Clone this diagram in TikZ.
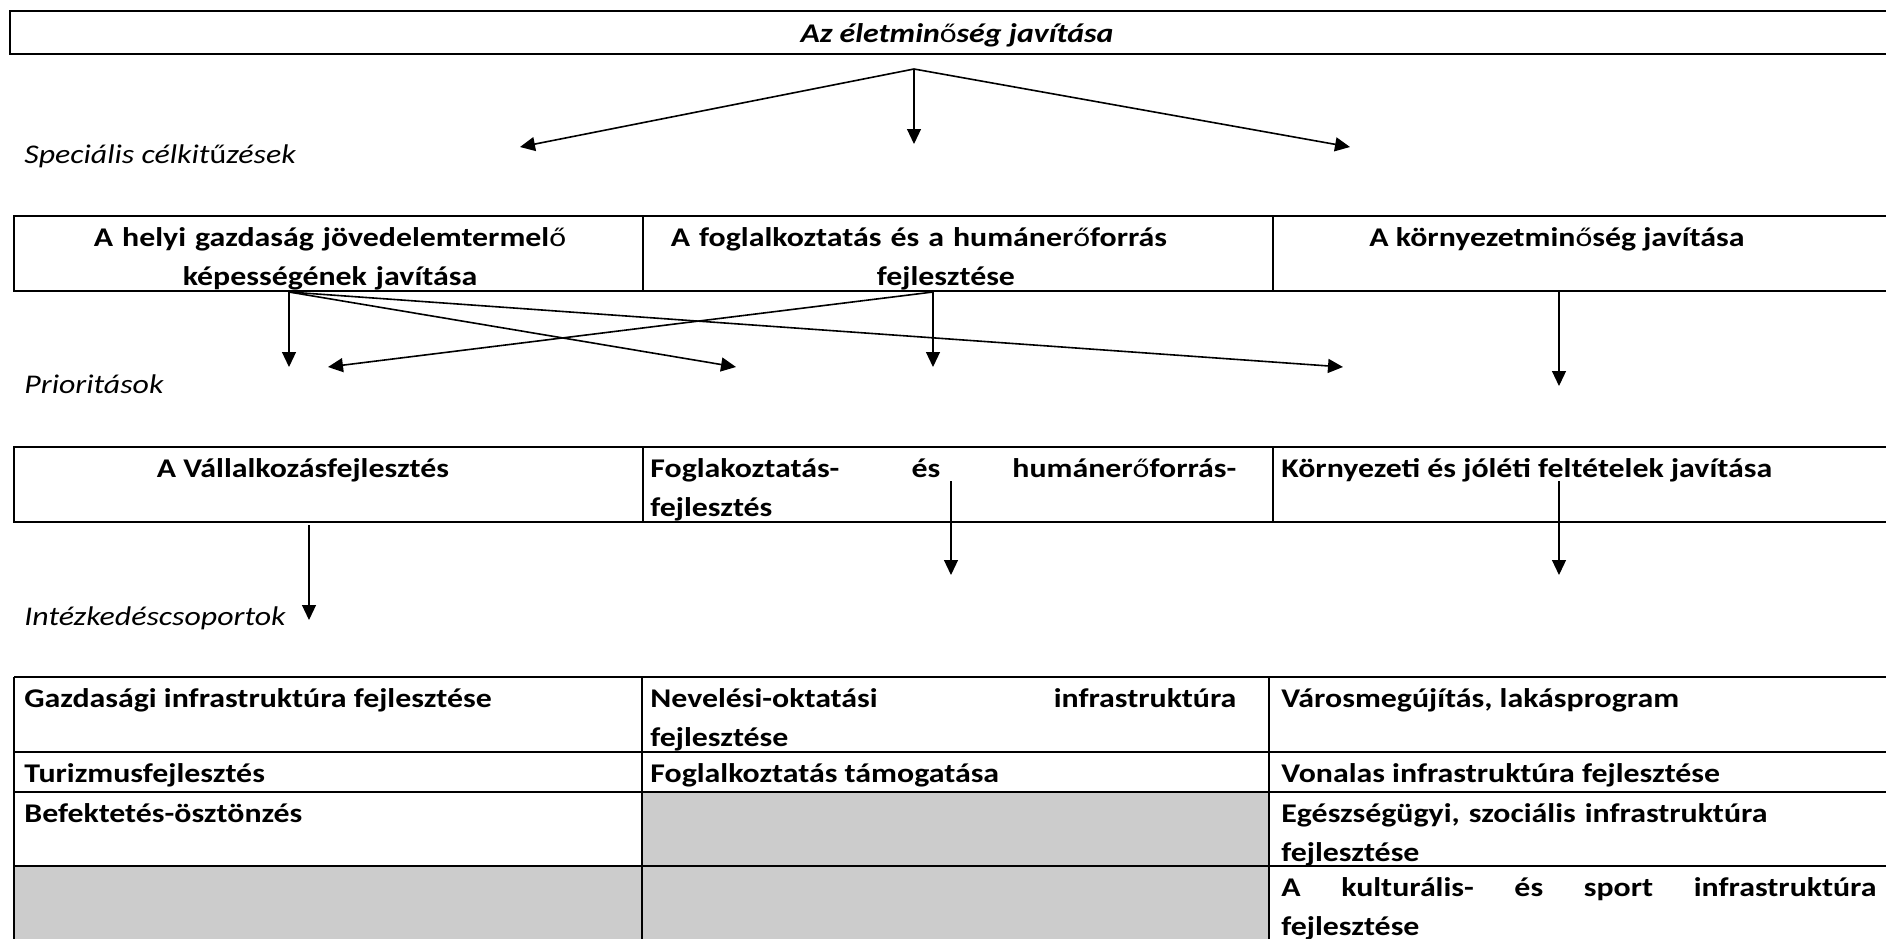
\documentclass[tikz,border=0pt]{standalone}
\usepackage{fontspec}
\setmainfont{Carlito}[FakeStretch=1.18]
\usetikzlibrary{arrows.meta}

\definecolor{cellagray}{RGB}{204,204,204}
\newcommand{\betu}{\fontsize{13.5}{19.5}\selectfont}
\newcommand{\oo}{{\mdseries\upshape ő}}
\newcommand{\uu}{{\mdseries\upshape ű}}

\tikzset{
  cim/.style={font=\betu\bfseries\itshape, inner sep=0pt, anchor=base},
  szint/.style={font=\betu\itshape, inner sep=0pt, anchor=base west},
  cella/.style={font=\betu\bfseries, inner sep=0pt, anchor=base west, align=left},
  kozep/.style={font=\betu\bfseries, inner sep=0pt, anchor=base, align=center},
  keret/.style={line width=0.6pt},
  tabla/.style={line width=1pt},
  nyil/.style={-{Triangle[length=7.5pt,width=7pt]}, line width=0.8pt},
  lenyil/.style={-{Triangle[length=7.5pt,width=7pt]}, line width=0.6pt},
}

\begin{document}
\begin{tikzpicture}[x=0.5pt,y=0.5pt,yscale=-1]
\useasboundingbox (0,0) rectangle (1886,938);
\clip (0,0) rectangle (1886,938);

%Shape: Rectangle (cim)
\draw [keret] (10,11) rectangle (1900,54);
% Text Node
\node [cim] (cel) at (957,42) {Az életmin\oo ség javítása};

% Text Node
\node [szint] (specialis) at (24,163) {Speciális célkit\uu zések};

%Shape: Rectangle (celkituzesek)
\draw [keret] (14,216) rectangle (1900,291);
\draw [keret] (643,216) -- (643,291);
\draw [keret] (1273,216) -- (1273,291);
% Text Node
\node [kozep, text width=300pt] (gazdasag) at (330,246) {A helyi gazdaság jövedelemtermel\oo\\képességének javítása};
% Text Node
\node [kozep, text width=300pt] (foglalk) at (919,246) {A foglalkoztatás és a humáner\oo forrás\\\hspace*{27pt}fejlesztése};
% Text Node
\node [kozep] (kornyezet) at (1557,246) {A környezetmin\oo ség javítása};

% Text Node
\node [szint] (prioritas) at (24,393) {Prioritások};

%Shape: Rectangle (prioritasok)
\draw [keret] (14,447) rectangle (1900,522);
\draw [keret] (643,447) -- (643,522);
\draw [keret] (1273,447) -- (1273,522);
% Text Node
\node [kozep] (vallalk) at (303,477) {A Vállalkozásfejlesztés};
% Text Node
\node [cella, text width=293pt] (humaner) at (650,477) {Foglakoztatás-\hfill és\hfill humáner\oo forrás-\\fejlesztés};
% Text Node
\node [cella] (joleti) at (1281,477) {Környezeti és jóléti feltételek javítása};

% Text Node
\node [szint] (intezk) at (24,625) {Intézkedéscsoportok};

%Shape: Table (intezkedescsoportok)
\fill [cellagray] (642,792) rectangle (1269,866);
\fill [cellagray] (14,866) rectangle (1269,940);
\draw [tabla] (14,677) -- (1900,677);
\draw [tabla] (14,752) -- (1900,752);
\draw [tabla] (14,792) -- (1900,792);
\draw [tabla] (14,866) -- (1900,866);
\draw [tabla] (14,677) -- (14,940);
\draw [tabla] (642,677) -- (642,940);
\draw [tabla] (1269,677) -- (1269,940);

% Text Node
\node [cella] (gazdinfra) at (24,707) {Gazdasági infrastruktúra fejlesztése};
% Text Node
\node [cella, text width=293pt] (nevokt) at (650,707) {Nevelési-oktatási\hfill infrastruktúra\\fejlesztése};
% Text Node
\node [cella] (varosm) at (1281,707) {Városmegújítás, lakásprogram};
% Text Node
\node [cella] (turizmus) at (24,782) {Turizmusfejlesztés};
% Text Node
\node [cella] (foglt) at (650,782) {Foglalkoztatás támogatása};
% Text Node
\node [cella] (vonalas) at (1281,782) {Vonalas infrastruktúra fejlesztése};
% Text Node
\node [cella] (befekt) at (24,822) {Befektetés-ösztönzés};
% Text Node
\node [cella, text width=297.5pt] (egeszseg) at (1281,822) {Egészségügyi, szociális infrastruktúra\\fejlesztése};
% Text Node
\node [cella, text width=297.5pt] (kultura) at (1281,896) {A\hfill kulturális-\hfill és\hfill sport\hfill infrastruktúra\\fejlesztése};

% arrow ends
\coordinate (fo) at (914,69);
\coordinate (spec1) at (520,147);
\coordinate (spec2) at (914,144);
\coordinate (spec3) at (1350,147);
\coordinate (gazdki) at (289,292);
\coordinate (foglki) at (933,292);
\coordinate (kornyki) at (1559,292);
\coordinate (prio1a) at (289,367);
\coordinate (prio1b) at (328,367);
\coordinate (prio2a) at (736,367);
\coordinate (prio2b) at (933,367);
\coordinate (prio3a) at (1343,367);
\coordinate (prio3b) at (1559,386);
\coordinate (vallki) at (309,525);
\coordinate (humki) at (951,481);
\coordinate (jolki) at (1559,481);
\coordinate (int1) at (309,620);
\coordinate (int2) at (951,575);
\coordinate (int3) at (1559,575);

% Arrows
\draw [nyil] (fo) -- (spec1);
\draw [lenyil] (fo) -- (spec2);
\draw [nyil] (fo) -- (spec3);
\draw [lenyil] (gazdki) -- (prio1a);
\draw [nyil] (gazdki) -- (prio2a);
\draw [nyil] (gazdki) -- (prio3a);
\draw [nyil] (foglki) -- (prio1b);
\draw [lenyil] (foglki) -- (prio2b);
\draw [lenyil] (kornyki) -- (prio3b);
\draw [lenyil] (vallki) -- (int1);
\draw [lenyil] (humki) -- (int2);
\draw [lenyil] (jolki) -- (int3);

\end{tikzpicture}
\end{document}
